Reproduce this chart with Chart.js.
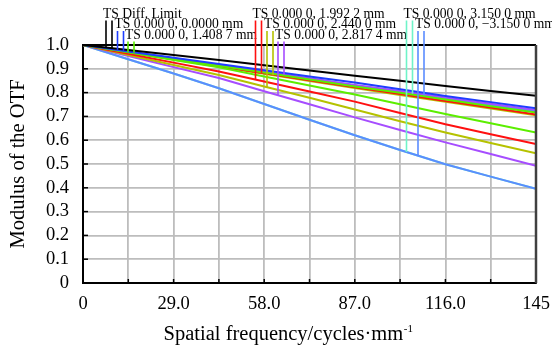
<!DOCTYPE html>
<html>
<head>
<meta charset="utf-8">
<script src="https://cdn.jsdelivr.net/npm/chart.js@4.4.1/dist/chart.umd.min.js"></script>
<style>
  html, body { margin: 0; padding: 0; background: #fff; }
</style>
</head>
<body>
<canvas id="mtfChart" width="552" height="355"></canvas>
<script>
// spatial frequency samples (cycles/mm) and tick labels
const freq = [0, 14.5, 29, 43.5, 58, 72.5, 87, 101.5, 116, 130.5, 145];
const xTickLabels = ['0', '', '29.0', '', '58.0', '', '87.0', '', '116.0', '', '145'];
const yTickValues = [0, 0.1, 0.2, 0.3, 0.4, 0.5, 0.6, 0.7, 0.8, 0.9, 1.0];
const yTickLabels = ['0', '0.1', '0.2', '0.3', '0.4', '0.5', '0.6', '0.7', '0.8', '0.9', '1.0'];

// MTF values (T = tangential, S = sagittal)
const diffLimit = [1, 0.979, 0.958, 0.937, 0.915, 0.893, 0.871, 0.850, 0.828, 0.807, 0.787];
const field0 = [1, 0.973, 0.946, 0.920, 0.894, 0.868, 0.842, 0.814, 0.786, 0.760, 0.734];
const field1T = [1, 0.969, 0.937, 0.906, 0.868, 0.830, 0.792, 0.751, 0.710, 0.671, 0.632];
const field1S = [1, 0.971, 0.942, 0.913, 0.884, 0.855, 0.826, 0.799, 0.771, 0.743, 0.716];
const field2T = [1, 0.963, 0.926, 0.889, 0.847, 0.805, 0.762, 0.714, 0.667, 0.625, 0.584];
const field2S = [1, 0.970, 0.940, 0.911, 0.881, 0.852, 0.822, 0.794, 0.765, 0.737, 0.708];
const field3T = [1, 0.958, 0.916, 0.874, 0.826, 0.778, 0.729, 0.680, 0.632, 0.588, 0.545];
const field3S = [1, 0.970, 0.939, 0.909, 0.879, 0.849, 0.819, 0.790, 0.761, 0.733, 0.705];
const field4T = [1, 0.954, 0.907, 0.861, 0.806, 0.751, 0.696, 0.643, 0.591, 0.542, 0.493];
const field4S = [1, 0.972, 0.944, 0.916, 0.888, 0.860, 0.832, 0.807, 0.779, 0.753, 0.727];
const field5T = [1, 0.940, 0.880, 0.818, 0.752, 0.686, 0.621, 0.559, 0.499, 0.447, 0.396];
const field5S = [1, 0.971, 0.943, 0.914, 0.886, 0.858, 0.830, 0.803, 0.776, 0.749, 0.721];
const field6T = field5T;
const field6S = field5S;

const labels = ['TS Diff. Limit', 'TS 0.000 0, 0.0000 mm', 'TS 0.000 0, 1.408 7 mm',
  'TS 0.000 0, 1.992 2 mm', 'TS 0.000 0, 2.440 0 mm', 'TS 0.000 0, 2.817 4 mm',
  'TS 0.000 0, 3.150 0 mm', 'TS 0.000 0, \u22123.150 0 mm'];
const colors = ['#000000', '#1f3dff', '#5cee00', '#ff1010', '#b5c200', '#a64dff', '#6ff3c8', '#5b8cff'];
const tSeries = [diffLimit, field0, field1T, field2T, field3T, field4T, field6T, field5T];
const sSeries = [diffLimit, field0, field1S, field2S, field3S, field4S, field6S, field5S];

// legend text placement (px)
const legendX = [103, 114.5, 125, 252.5, 264, 275, 403.5, 415];
const legendRow = [0, 1, 2, 0, 1, 2, 0, 1];
const rowBaseline = [17.5, 28, 38.5];

const serif = "'Liberation Serif', 'Times New Roman', serif";

const datasets = [];
labels.forEach((lab, i) => {
  // +3.150 mm curves sit underneath the -3.150 mm ones
  const ord = i === 6 ? 100 : i;
  datasets.push({ label: lab + ' T', data: tSeries[i], borderColor: colors[i], order: ord });
  if (sSeries[i] !== tSeries[i]) {
    datasets.push({ label: lab + ' S', data: sSeries[i], borderColor: colors[i], order: ord });
  }
});

function valueAt(series, f) {
  for (let i = 0; i < freq.length - 1; i++) {
    if (f >= freq[i] && f <= freq[i + 1]) {
      const r = (f - freq[i]) / (freq[i + 1] - freq[i]);
      return series[i] + r * (series[i + 1] - series[i]);
    }
  }
  return series[series.length - 1];
}

const decorPlugin = {
  id: 'decor',
  afterDraw(chart) {
    const ctx = chart.ctx;
    const area = chart.chartArea;
    const xs = chart.scales.x;
    const ys = chart.scales.y;
    ctx.save();

    // inward ticks
    ctx.strokeStyle = '#000';
    ctx.lineWidth = 1.5;
    yTickValues.forEach(v => {
      const py = ys.getPixelForValue(v);
      ctx.beginPath(); ctx.moveTo(area.left, py); ctx.lineTo(area.left + 5, py); ctx.stroke();
    });
    freq.forEach(v => {
      const px = xs.getPixelForValue(v);
      ctx.beginPath(); ctx.moveTo(px, area.bottom); ctx.lineTo(px, area.bottom - 4); ctx.stroke();
    });

    // frame
    ctx.lineWidth = 2.2;
    ctx.strokeStyle = '#000';
    ctx.beginPath(); ctx.moveTo(area.left, area.top); ctx.lineTo(area.right, area.top); ctx.stroke();
    ctx.strokeStyle = '#404040';
    ctx.lineWidth = 2.5;
    ctx.beginPath(); ctx.moveTo(area.right, area.top); ctx.lineTo(area.right, area.bottom); ctx.stroke();

    // legend: text plus T/S marker lines down to the curves
    ctx.font = '13.6px ' + serif;
    ctx.textBaseline = 'alphabetic';
    ctx.textAlign = 'left';
    labels.forEach((lab, i) => {
      const tx = legendX[i];
      const base = rowBaseline[legendRow[i]];
      ctx.fillStyle = '#000';
      ctx.fillText(lab, tx, base);
      ctx.strokeStyle = colors[i];
      ctx.lineWidth = 1.6;
      [[tx + 3, tSeries[i]], [tx + 9, sSeries[i]]].forEach(([mx, ser]) => {
        const v = valueAt(ser, xs.getValueForPixel(mx));
        ctx.beginPath();
        ctx.moveTo(mx, base + 3);
        ctx.lineTo(mx, ys.getPixelForValue(v));
        ctx.stroke();
      });
    });

    // axis titles
    ctx.fillStyle = '#000';
    ctx.font = '20.5px ' + serif;
    ctx.textAlign = 'center';
    ctx.textBaseline = 'middle';
    ctx.save();
    ctx.translate(19, (area.top + area.bottom) / 2);
    ctx.rotate(-Math.PI / 2);
    ctx.fillText('Modulus of the OTF', 0, 0);
    ctx.restore();

    const main = 'Spatial frequency/cycles\u00b7mm';
    ctx.textAlign = 'left';
    ctx.textBaseline = 'alphabetic';
    const w = ctx.measureText(main).width;
    ctx.font = '11px ' + serif;
    const ws = ctx.measureText('-1').width;
    const startX = 288 - (w + ws) / 2;
    ctx.font = '20.5px ' + serif;
    ctx.fillText(main, startX, 340);
    ctx.font = '11px ' + serif;
    ctx.fillText('-1', startX + w + 0.5, 332);
    ctx.restore();
  }
};

new Chart(document.getElementById('mtfChart'), {
  type: 'line',
  data: { labels: freq, datasets: datasets },
  options: {
    responsive: false,
    animation: false,
    devicePixelRatio: 1,
    layout: { padding: { top: 45, right: 16, left: 0, bottom: 0 } },
    elements: {
      point: { radius: 0 },
      line: { borderWidth: 2, tension: 0 }
    },
    plugins: { legend: { display: false }, tooltip: { enabled: false } },
    scales: {
      x: {
        type: 'linear',
        min: 0,
        max: 145,
        afterBuildTicks: scale => { scale.ticks = freq.map(v => ({ value: v })); },
        afterFit: scale => {
          scale.height = 72;
          scale.paddingLeft = 0;
          scale.paddingRight = 0;
        },
        grid: { color: '#bdbdbd', lineWidth: 1.8, drawTicks: false },
        border: { color: '#000', width: 2 },
        ticks: {
          autoSkip: false,
          maxRotation: 0,
          padding: 10,
          color: '#000',
          font: { family: serif, size: 18.5 },
          callback: (v, i) => xTickLabels[i]
        }
      },
      y: {
        min: 0,
        max: 1,
        afterBuildTicks: scale => { scale.ticks = yTickValues.map(v => ({ value: v })); },
        afterFit: scale => {
          scale.width = 83;
          scale.paddingTop = 0;
          scale.paddingBottom = 0;
        },
        grid: { color: '#bdbdbd', lineWidth: 1.8, drawTicks: false },
        border: { color: '#000', width: 2 },
        ticks: {
          autoSkip: false,
          padding: 14,
          color: '#000',
          font: { family: serif, size: 18.5 },
          callback: (v, i) => yTickLabels[i]
        }
      }
    }
  },
  plugins: [decorPlugin]
});
</script>
</body>
</html>
